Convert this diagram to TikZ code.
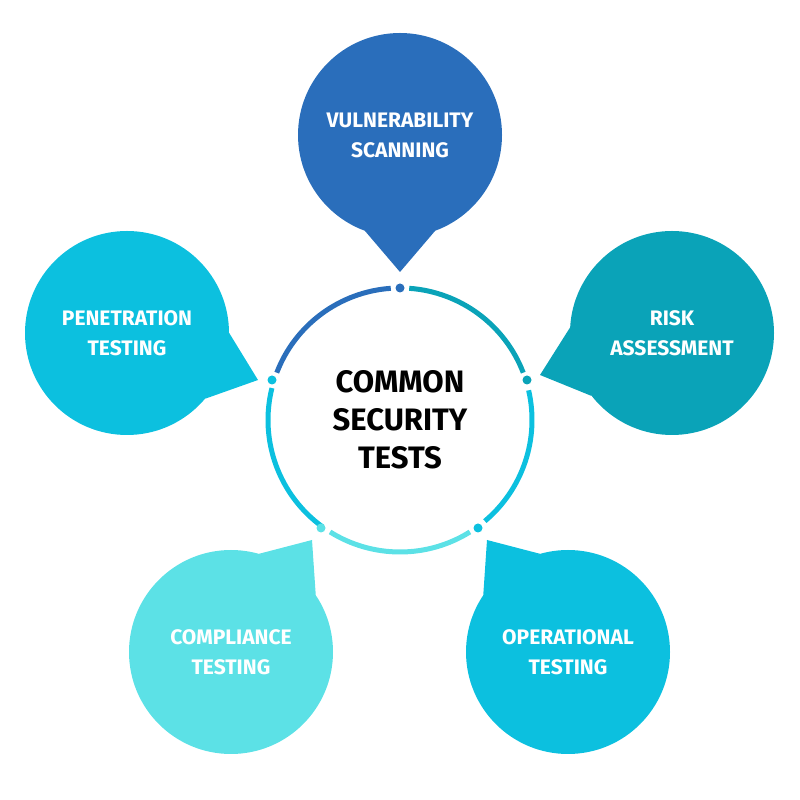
\documentclass[tikz,border=0pt]{standalone}
\usepackage{fontspec}
\setmainfont{Fira Sans}
\usetikzlibrary{positioning}
\definecolor{vblue}{HTML}{2A6EBB}
\definecolor{rteal}{HTML}{0AA3B8}
\definecolor{ocyan}{HTML}{0CC0DF}
\definecolor{clight}{HTML}{5CE1E6}

\begin{document}
\begin{tikzpicture}[x=1pt,y=1pt,
    bubble/.style = {shape=circle, minimum size=204pt, inner sep=0pt,
                     align=center, text=white, font=\bfseries\fontsize{21}{30}\selectfont},
    ring/.style = {line width=5pt},
    dot/.style = {circle, inner sep=0pt, minimum size=9pt}]
  \useasboundingbox (0,0) rectangle (800,800);
  % centre
  \node (hub) at (400,380) [align=center, font=\bfseries\fontsize{31}{38}\selectfont] {COMMON\\SECURITY\\TESTS};
  % ring arcs
  \draw[ring, vblue]  (400,380) ++(94:132) arc (94:159:132);
  \draw[ring, rteal]  (400,380) ++(21:132) arc (21:86:132);
  \draw[ring, ocyan]  (400,380) ++(-50:132) arc (-50:13:132);
  \draw[ring, clight] (400,380) ++(-122:132) arc (-122:-58:132);
  \draw[ring, ocyan]  (400,380) ++(166:132) arc (166:234:132);
  % dots
  \node[dot, fill=vblue]  (d1) at (400,512) {};
  \node[dot, fill=rteal]  (d2) at (527,420) {};
  \node[dot, fill=ocyan]  (d3) at (478,272) {};
  \node[dot, fill=clight] (d4) at (321,272) {};
  \node[dot, fill=ocyan]  (d5) at (272,420) {};
  % bubbles
  \node[bubble, fill=vblue]  (vuln) at (400,665) {VULNERABILITY\\SCANNING};
  \node[bubble, fill=rteal]  (risk) at (672,467) {RISK\\ASSESSMENT};
  \node[bubble, fill=ocyan]  (oper) at (568,148) {OPERATIONAL\\TESTING};
  \node[bubble, fill=clight] (comp) at (231,148) {COMPLIANCE\\TESTING};
  \node[bubble, fill=ocyan]  (pene) at (127,467) {PENETRATION\\TESTING};
  % tails
  \coordinate (t1) at (400,528);
  \coordinate (t2) at (540,425);
  \coordinate (t3) at (487,260);
  \coordinate (t4) at (312,260);
  \coordinate (t5) at (258,420);
  \fill[vblue]  (vuln.-110) -- (t1) -- (vuln.-70) -- cycle;
  \fill[rteal]  (risk.177) -- (t2) -- (risk.218) -- cycle;
  \fill[ocyan]  (oper.106) -- (t3) -- (oper.146) -- cycle;
  \fill[clight] (comp.34) -- (t4) -- (comp.74) -- cycle;
  \fill[ocyan]  (pene.-40) -- (t5) -- (pene.0) -- cycle;
\end{tikzpicture}
\end{document}
